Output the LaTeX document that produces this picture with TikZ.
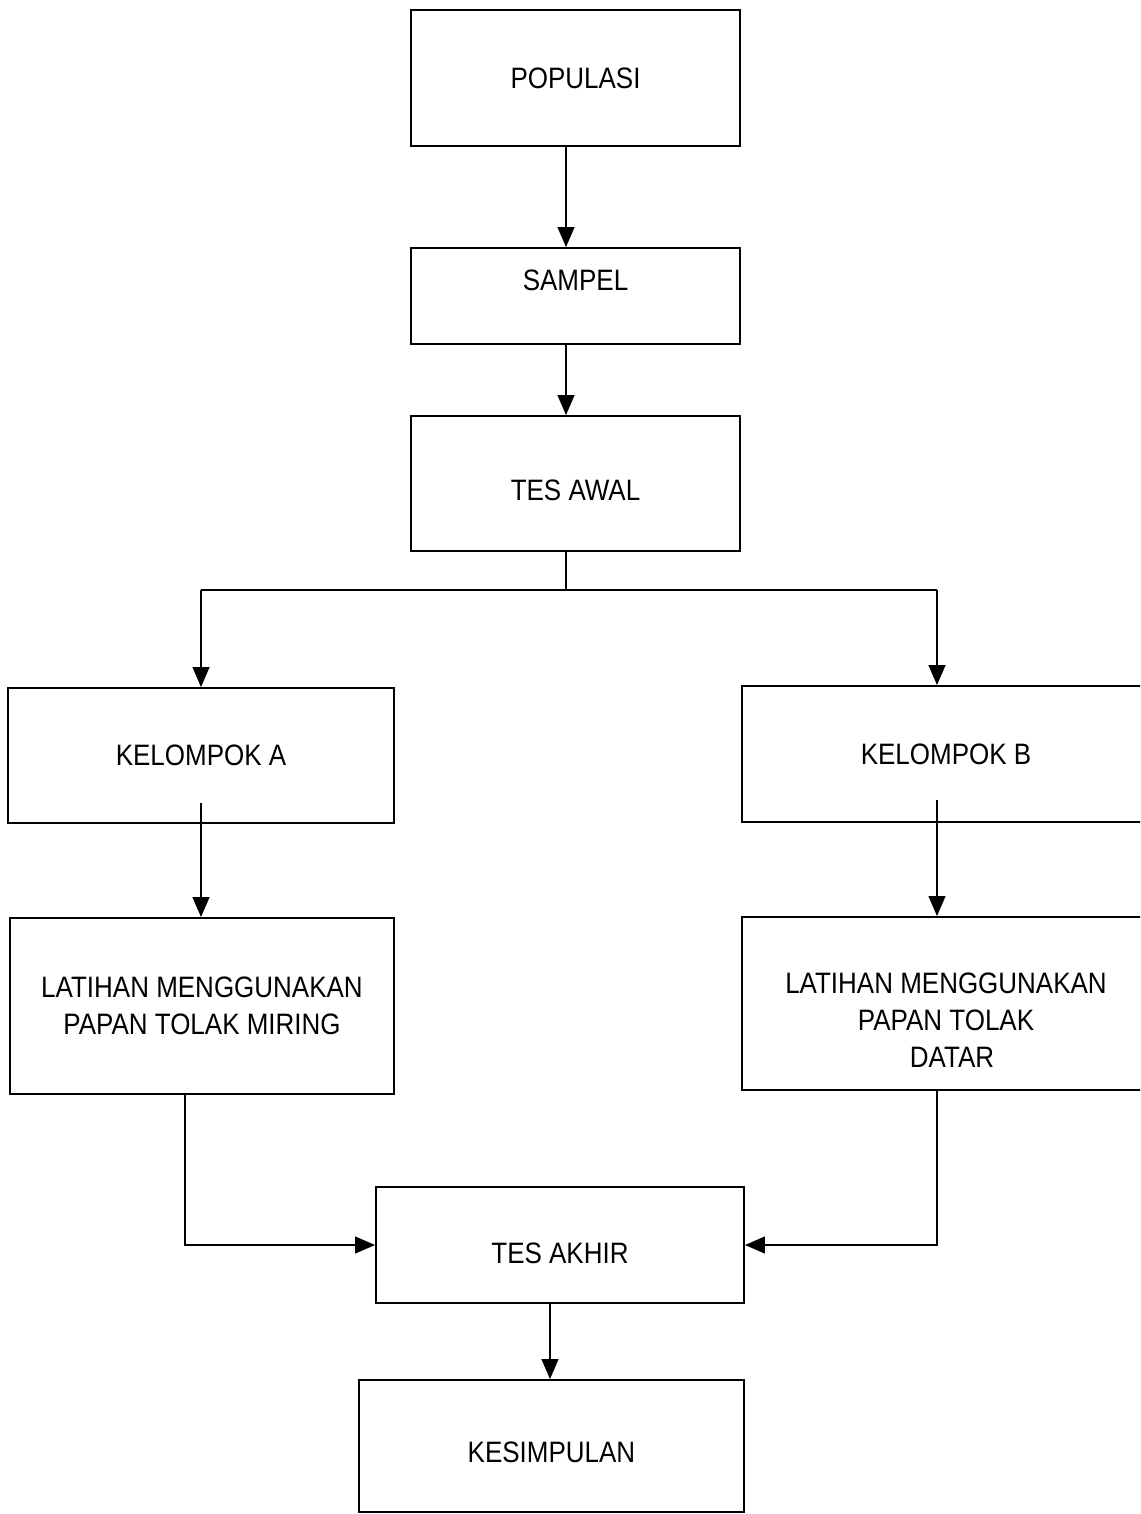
\documentclass[tikz,border=0pt]{standalone}
\usepackage{fontspec}
\setmainfont{Liberation Sans}[FakeStretch=0.88]
\usepackage{tikz}
\usetikzlibrary{arrows.meta,positioning}

\begin{document}
\begin{tikzpicture}[x=0.025cm,y=-0.025cm]
		\clip (0,0) rectangle (1140,1514);
		\useasboundingbox (0,0) rectangle (1140,1514);

		\begin{scope}[every node/.style={rectangle,draw,line width=1.3pt,align=center,inner sep=0pt,font=\fontsize{21}{26.2}\selectfont}]
			\node[minimum width=8.225cm,minimum height=3.4cm] (pop) at (575.5,78) {POPULASI};
			\node[minimum width=8.225cm,minimum height=2.4cm,text depth=0.8cm] (sam) at (575.5,296) {SAMPEL};
			\node[minimum width=8.225cm,minimum height=3.375cm,text height=0.85cm] (awal) at (575.5,483.5) {TES AWAL};
			\node[minimum width=9.65cm,minimum height=3.375cm] (kelA) at (201,755.5) {KELOMPOK A};
			\node[minimum width=10.2cm,minimum height=3.4cm] (kelB) at (946,754) {KELOMPOK B};
			\node[minimum width=9.6cm,minimum height=4.4cm] (latA) at (202,1006) {LATIHAN MENGGUNAKAN\\PAPAN TOLAK MIRING};
			\node[minimum width=10.2cm,minimum height=4.325cm,text height=3.2cm] (latB) at (946,1003.5) {LATIHAN MENGGUNAKAN\\PAPAN TOLAK\\\hspace*{0.3cm}DATAR};
			\node[minimum width=9.2cm,minimum height=2.9cm,text height=0.93cm] (akhir) at (560,1245) {TES AKHIR};
			\node[minimum width=9.625cm,minimum height=3.3cm,text height=0.83cm] (simpul) at (551.5,1446) {KESIMPULAN};
		\end{scope}

		% titik bantu
		\coordinate (split) at (566,590);
		\coordinate (splitA) at (201,590);
		\coordinate (splitB) at (937,590);
		\coordinate (outA) at (201,803);
		\coordinate (outB) at (937,800);

		\begin{scope}[>={Triangle[length=0.5cm,width=0.42cm]},line width=1.3pt]
			\draw[->] (pop.south -| 566,0) -- (sam.north -| 566,0);
			\draw[->] (sam.south -| 566,0) -- (awal.north -| 566,0);

			\draw (awal.south -| split) -- (split);
			\draw (splitA) -- (splitB);
			\draw[->] (splitA) -- (kelA.north -| splitA);
			\draw[->] (splitB) -- (kelB.north -| splitB);

			\draw[->] (outA) -- (latA.north -| outA);
			\draw[->] (outB) -- (latB.north -| outB);

			\draw[->] (latA.south -| 185,0) |- (akhir.west);
			\draw[->] (latB.south -| 937,0) |- (akhir.east);
			\draw[->] (akhir.south -| 550,0) -- (simpul.north -| 550,0);
		\end{scope}
	\end{tikzpicture}
\end{document}
